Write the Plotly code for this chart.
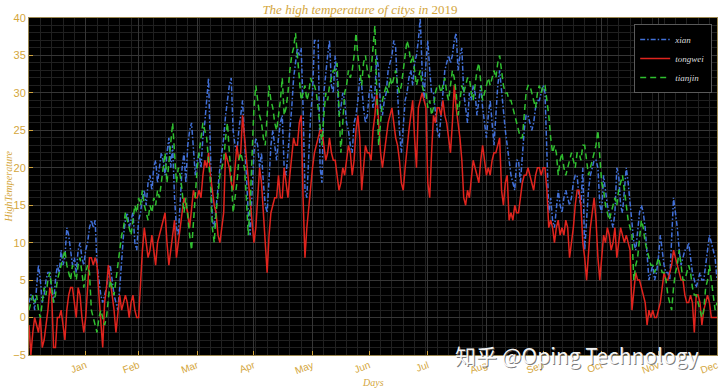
import plotly.graph_objects as go

# Daily high temperature, 2019 (day 1..365)
xian = [
    # Jan
    2, 3, 3, 1, 4, 7, 5, 2, 3, 5, 6, 6, 4, 2, 5, 7, 6, 9, 7, 8, 12, 11, 9, 7, 8, 6, 9, 10, 8, 7, 9,
    # Feb
    10, 12, 13, 12, 13, 7, 5, 3, 2, 3, 4, 6, 7, 5, 3, 2, 1, 4, 8, 11, 13, 14, 12, 13, 14, 10, 9, 13,
    # Mar
    14, 16, 17, 15, 18, 19, 17, 20, 21, 18, 20, 22, 21, 19, 22, 24, 20, 23, 16, 12, 11, 15, 20, 22, 18, 23, 25, 26, 22, 19, 21,
    # Apr
    22, 20, 24, 26, 29, 32, 22, 13, 12, 15, 17, 20, 22, 24, 27, 29, 31, 32, 25, 23, 22, 25, 27, 29, 24, 18, 14, 11, 17, 22,
    # May
    24, 23, 20, 22, 18, 15, 14, 19, 23, 25, 23, 21, 24, 26, 27, 20, 19, 22, 24, 28, 32, 34, 36, 35, 36, 28, 17, 16, 22, 27, 30,
    # Jun
    37, 37, 37, 20, 18, 30, 33, 35, 37, 31, 30, 35, 32, 27, 28, 30, 29, 26, 25, 23, 22, 26, 27, 29, 32, 31, 28, 26, 27, 30,
    # Jul
    31, 28, 30, 35, 33, 28, 27, 29, 30, 33, 34, 35, 37, 36, 30, 25, 22, 26, 29, 30, 32, 33, 31, 34, 35, 37, 40, 33, 29, 34, 37,
    # Aug
    33, 30, 30, 27, 25, 24, 27, 31, 33, 34, 35, 34, 35, 37, 38, 33, 35, 36, 30, 28, 26, 30, 29, 31, 30, 27, 29, 31, 28, 26, 24,
    # Sep
    27, 29, 26, 23, 27, 31, 33, 30, 27, 25, 23, 21, 19, 18, 17, 21, 21, 18, 22, 25, 27, 27, 26, 25, 26, 28, 29, 29, 30, 31,
    # Oct
    30, 22, 14, 16, 13, 12, 15, 17, 15, 14, 16, 17, 16, 15, 16, 18, 19, 19, 16, 15, 20, 9, 13, 17, 19, 20, 21, 21, 20, 15, 14,
    # Nov
    19, 17, 15, 14, 13, 12, 14, 20, 19, 15, 14, 17, 20, 18, 15, 12, 10, 9, 12, 14, 15, 14, 12, 8, 5, 6, 7, 5, 6, 8,
    # Dec
    11, 9, 7, 6, 6, 5, 10, 16, 14, 12, 9, 7, 8, 9, 9, 10, 8, 6, 5, 4, 5, 6, 5, 5, 7, 9, 11, 10, 9, 8, 5,
]

tongwei = [
    # Jan
    -1, -5, -2, 0, -1, -2, 0, -4, -3, -1, 1, 4, 3, -4, -4, 0, 0, 1, -1, -3, 1, 3, 4, 4, 2, 0, 4, 3, 0, -2, 0,
    # Feb
    4, 8, 8, 7, 8, 7, 3, -1, -4, 2, 4, 7, 5, 3, 1, -2, 1, 3, 1, 2, 3, 2, 0, 2, 3, 1, 0, 0,
    # Mar
    5, 9, 12, 10, 8, 9, 11, 9, 7, 10, 11, 12, 13, 14, 10, 7, 9, 11, 13, 8, 10, 12, 14, 16, 15, 14, 12, 15, 17, 16, 16,
    # Apr
    17, 16, 19, 21, 20, 22, 19, 17, 15, 14, 11, 10, 12, 14, 22, 21, 20, 18, 17, 20, 23, 21, 22, 27, 24, 21, 18, 16, 12, 10,
    # May
    12, 16, 20, 18, 14, 9, 6, 11, 14, 15, 16, 16, 19, 16, 16, 20, 18, 16, 19, 22, 24, 23, 23, 26, 27, 16, 8, 12, 15, 18, 20,
    # Jun
    22, 23, 24, 25, 25, 23, 21, 22, 24, 22, 21, 21, 19, 17, 18, 20, 19, 21, 23, 22, 19, 21, 25, 27, 24, 17, 20, 23, 22, 22,
    # Jul
    21, 25, 27, 30, 26, 22, 20, 22, 24, 26, 27, 28, 26, 24, 23, 21, 18, 17, 20, 23, 25, 27, 29, 24, 20, 28, 29, 30, 29, 28, 18,
    # Aug
    16, 22, 27, 26, 28, 28, 27, 29, 27, 26, 24, 22, 26, 31, 28, 26, 24, 21, 16, 15, 17, 16, 19, 21, 20, 19, 18, 21, 23, 21, 19,
    # Sep
    20, 19, 21, 22, 22, 23, 24, 17, 15, 18, 19, 13, 14, 13, 15, 14, 14, 16, 18, 19, 19, 20, 19, 18, 17, 19, 20, 20, 19, 20,
    # Oct
    20, 17, 12, 13, 12, 10, 12, 13, 11, 12, 11, 13, 12, 8, 10, 12, 15, 17, 17, 15, 10, 8, 5, 9, 12, 14, 16, 13, 8, 5, 8,
    # Nov
    11, 10, 12, 11, 9, 10, 12, 8, 10, 12, 11, 10, 11, 10, 9, 1, 4, 6, 5, 5, 4, 3, 2, -1, 1, 0, 1, 0, 0, 1,
    # Dec
    2, 4, 6, 5, 5, 6, 7, 9, 8, 7, 6, 5, 5, 3, 2, 2, 3, 2, -2, 3, 3, 2, -1, 1, 2, 3, 2, 0, 0, 0, 0,
]

tianjin = [
    # Jan
    1, 2, 3, 2, 3, 1, 0, 2, 4, 3, 5, 6, 4, 2, 3, 5, 6, 7, 8, 9, 7, 6, 5, 7, 6, 5, 7, 8, 6, 4, 6,
    # Feb
    7, 6, 1, 0, -1, -2, 0, 1, 0, -1, 0, 3, 5, 4, 3, 5, 7, 9, 11, 12, 14, 13, 12, 11, 13, 15, 14, 16,
    # Mar
    15, 17, 15, 14, 13, 15, 14, 16, 15, 17, 16, 18, 20, 22, 18, 21, 24, 26, 22, 18, 20, 19, 17, 14, 16, 13, 11, 9, 13, 17, 20,
    # Apr
    22, 24, 26, 25, 24, 21, 18, 12, 10, 14, 17, 19, 20, 21, 24, 26, 22, 19, 14, 16, 18, 21, 22, 21, 20, 16, 11, 15, 22, 28,
    # May
    31, 29, 27, 26, 24, 23, 27, 31, 29, 28, 26, 25, 27, 29, 32, 27, 28, 30, 33, 35, 36, 38, 35, 32, 29, 30, 31, 29, 30, 32, 31,
    # Jun
    31, 30, 28, 25, 23, 27, 30, 29, 31, 32, 33, 33, 34, 28, 22, 26, 30, 31, 33, 32, 33, 35, 38, 35, 33, 31, 34, 35, 33, 32,
    # Jul
    33, 36, 39, 30, 23, 26, 29, 30, 31, 30, 32, 31, 32, 33, 31, 30, 31, 33, 35, 37, 36, 34, 35, 33, 31, 32, 33, 31, 30, 30, 28,
    # Aug
    29, 27, 28, 30, 31, 31, 30, 31, 32, 30, 29, 31, 33, 32, 30, 27, 29, 31, 30, 31, 32, 32, 30, 29, 31, 33, 34, 31, 29, 30, 31,
    # Sep
    32, 31, 32, 33, 32, 34, 35, 33, 31, 30, 30, 29, 29, 28, 27, 26, 25, 24, 24, 27, 30, 31, 31, 30, 29, 28, 30, 31, 30, 31,
    # Oct
    31, 29, 27, 24, 22, 23, 22, 19, 21, 22, 20, 19, 20, 21, 22, 21, 20, 22, 22, 21, 23, 23, 21, 19, 20, 21, 22, 23, 25, 21, 18,
    # Nov
    17, 15, 14, 13, 14, 15, 16, 15, 17, 18, 19, 17, 15, 13, 12, 11, 5, 7, 8, 11, 13, 12, 10, 9, 8, 7, 7, 6, 7, 8,
    # Dec
    7, 6, 6, 5, 3, 2, 1, 4, 6, 7, 9, 7, 5, 5, 6, 7, 6, 4, 3, 3, 2, 1, 0, 1, 4, 5, 7, 5, 3, 1, 2,
]

month_ticks = [31, 59, 90, 120, 151, 181, 212, 243, 273, 304, 334, 365]
month_labels = ["Jan", "Feb", "Mar", "Apr", "May", "Jun",
                "Jul", "Aug", "Sep", "Oct", "Nov", "Dec"]
y_ticks = [-5, 0, 5, 10, 15, 20, 25, 30, 35, 40]

days = list(range(1, len(xian) + 1))

GOLD = "#D4A63C"
SERIF = "Liberation Serif, DejaVu Serif, serif"
SANS = "Liberation Sans, Arial, sans-serif"

fig = go.Figure()
fig.add_trace(go.Scatter(x=days, y=xian, mode="lines", name="<i>xian</i> ",
                         line=dict(color="#4170D8", width=1.5, dash="5px,2px,1.5px,2px")))
fig.add_trace(go.Scatter(x=days, y=tongwei, mode="lines", name="<i>tongwei</i> ",
                         line=dict(color="#E0241E", width=1.5)))
fig.add_trace(go.Scatter(x=days, y=tianjin, mode="lines", name="<i>tianjin</i> ",
                         line=dict(color="#2FBF2F", width=1.5, dash="6px,4px")))

fig.update_layout(
    width=720, height=389,
    margin=dict(l=29, r=3, t=18, b=34, autoexpand=False),
    paper_bgcolor="white",
    plot_bgcolor="black",
    title=dict(text="<i>The high temperature of citys in</i> 2019",
               x=0.5, xanchor="center", y=1 - 9 / 389, yanchor="middle",
               font=dict(family=SERIF, size=13, color=GOLD)),
    showlegend=True,
    legend=dict(x=0.993, y=0.982, xanchor="right", yanchor="top",
                bgcolor="black", bordercolor="#5a5a5a", borderwidth=1,
                font=dict(family=SERIF, size=9, color="#dddddd"),
                tracegroupgap=0, itemwidth=30),
    xaxis=dict(
        range=[1, 365], automargin=False,
        tickmode="array", tickvals=month_ticks, ticktext=month_labels,
        tickangle=-20,
        tickfont=dict(family=SANS, size=10, color=GOLD),
        ticks="inside", ticklen=4, tickcolor=GOLD,
        showgrid=True, gridcolor="#363636", gridwidth=1,
        minor=dict(tick0=1, dtick=6, showgrid=True, gridcolor="#202020", gridwidth=1),
        showline=True, linecolor="#9c8850", linewidth=1, mirror=True,
        zeroline=False,
    ),
    yaxis=dict(
        range=[-5, 40], automargin=False,
        tickmode="array", tickvals=y_ticks,
        tickfont=dict(family=SANS, size=11, color=GOLD),
        ticks="inside", ticklen=4, tickcolor=GOLD,
        showgrid=True, gridcolor="#363636", gridwidth=1,
        minor=dict(dtick=1, showgrid=True, gridcolor="#202020", gridwidth=1),
        showline=True, linecolor="#9c8850", linewidth=1, mirror=True,
        zeroline=False,
    ),
)

# axis titles
fig.add_annotation(text="<i>Days</i>", xref="paper", yref="paper", x=0.5, y=-27 / 337,
                   showarrow=False, xanchor="center", yanchor="middle",
                   font=dict(family=SERIF, size=10, color=GOLD))
fig.add_annotation(text="<i>HighTemperature</i>", xref="paper", yref="paper",
                   x=-21 / 688, y=0.5, textangle=-90,
                   showarrow=False, xanchor="center", yanchor="middle",
                   font=dict(family=SERIF, size=10, color=GOLD))

# watermark (shadow + text)
wm = "知乎 @Oping Technology"
fig.add_annotation(text=wm, xref="paper", yref="paper", x=0.797, y=0.0, xshift=1, yshift=-1,
                   showarrow=False, xanchor="center", yanchor="middle",
                   font=dict(family="Noto Sans CJK SC", size=21, color="rgba(90,90,90,0.8)"))
fig.add_annotation(text=wm, xref="paper", yref="paper", x=0.797, y=0.0,
                   showarrow=False, xanchor="center", yanchor="middle",
                   font=dict(family="Noto Sans CJK SC", size=21, color="rgba(255,255,255,0.95)"))

fig.write_html("out.html", config={"displayModeBar": False},
               post_script="document.body.style.margin='0';document.body.style.overflow='hidden';")
